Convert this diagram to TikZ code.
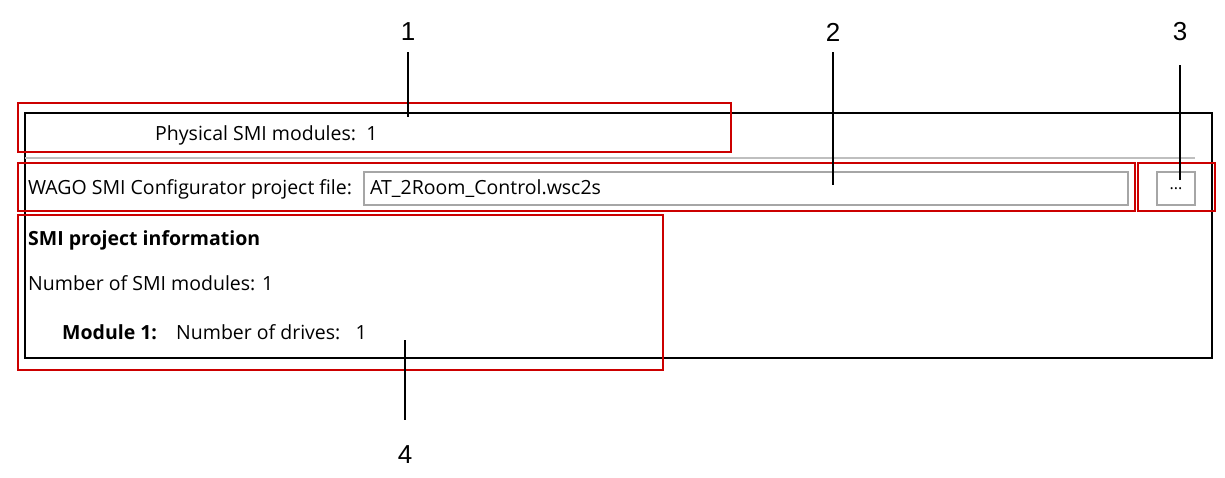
\documentclass[tikz,border=0pt]{standalone}
\usepackage{fontspec}
\setmainfont{Liberation Sans}
\newfontfamily\ui{Open Sans}
\begin{document}
\begin{tikzpicture}[x=1pt,y=-1pt,
  redbox/.style={draw=red!80!black,line width=1.5pt},
  uitext/.style={font=\ui\fontsize{19.5}{22}\selectfont,anchor=west,inner sep=0pt},
  num/.style={font=\fontsize{26}{28}\selectfont,inner sep=0pt},
  leader/.style={line width=1.6pt}]
\useasboundingbox (0,0) rectangle (1225,477);
% window
\draw[line width=2pt] (25,113) -- (1212,113) -- (1212,358) -- (25,358) -- cycle;
\draw[gray!50,line width=2pt] (25,158) -- (1195,158);
\node[uitext] (phys) at (155,135) {Physical SMI modules:\ \ 1};
\node[uitext] (wago) at (28,189) {WAGO SMI Configurator project file:};
\node[draw=gray!70,line width=1.2pt,minimum width=764pt,minimum height=33pt,inner sep=0pt] (field) at (746,188.5) {};
\node[uitext] (fname) at (370,189) {AT\_2Room\_Control.wsc2s};
\node[draw=gray!70,line width=1.2pt,minimum width=38pt,minimum height=33pt,inner sep=0pt,font=\ui\fontsize{16}{18}\selectfont] (btn) at (1176,188.5) {...};
\node[uitext,font=\ui\bfseries\fontsize{19.5}{22}\selectfont] (info) at (28,240) {SMI project information};
\node[uitext] (nmod) at (28,283) {Number of SMI modules: 1};
\node[uitext,font=\ui\bfseries\fontsize{19.5}{22}\selectfont] (mod) at (62,332) {Module 1:};
\node[uitext] (drv) at (176,332) {Number of drives:\ \ \ 1};
% red boxes
\draw[redbox] (18,103) rectangle (731,152);
\draw[redbox] (18,163) rectangle (1135,211);
\draw[redbox] (1138,163) rectangle (1215,211);
\draw[redbox] (18,215) rectangle (663,370);
% numbers
\node[num] (n1) at (408,32) {1};
\node[num] (n2) at (833,32) {2};
\node[num] (n3) at (1180,32) {3};
\node[num] (n4) at (405,455) {4};
\coordinate (e1) at (408,117);
\coordinate (e2) at (833,185);
\coordinate (e3) at (1180,180);
\coordinate (e4) at (405,340);
\draw[leader] (408,52) -- (e1);
\draw[leader] (833,52) -- (e2);
\draw[leader] (1180,65) -- (e3);
\draw[leader] (e4) -- (405,420);
\end{tikzpicture}
\end{document}
